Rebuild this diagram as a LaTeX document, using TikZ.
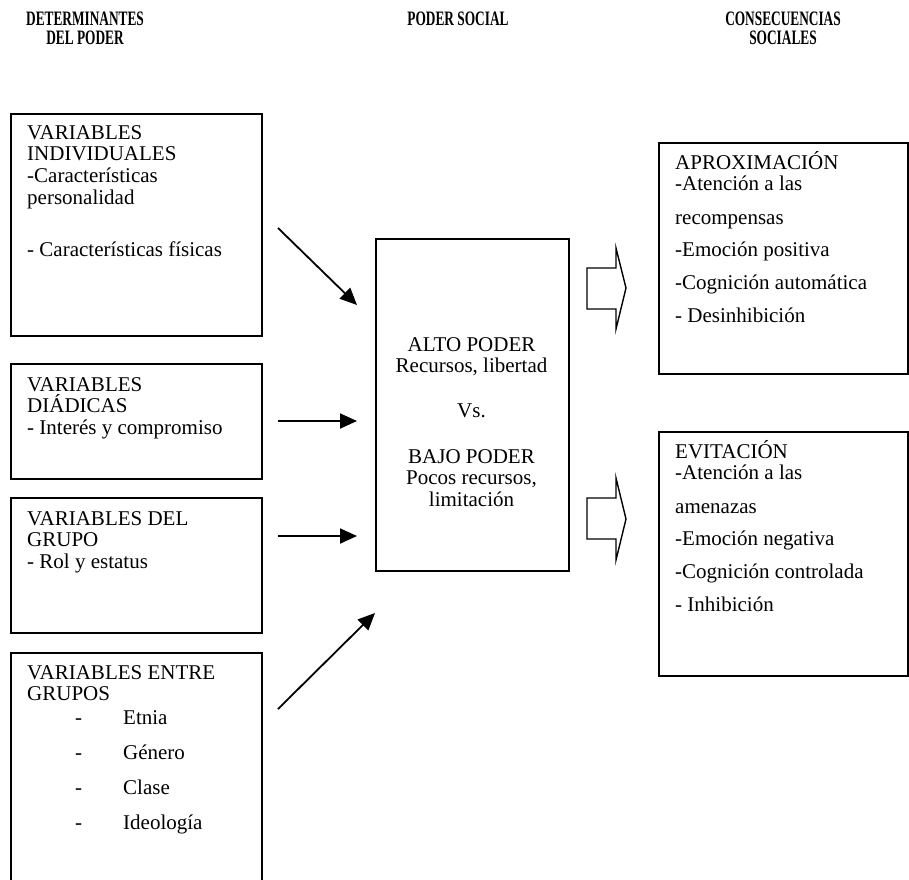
\documentclass[tikz,border=0pt]{standalone}
\usepackage{fontspec}
\setmainfont{Liberation Serif}
\usetikzlibrary{arrows.meta}
\begin{document}
\begin{tikzpicture}[x=1pt,y=-1pt,
  box/.style={draw, line width=1.8pt, anchor=north west, inner sep=0pt},
  % multi-line texts are placed by the baseline of their last line
  txt/.style={anchor=base west, align=left, inner sep=0pt, font=\fontsize{21}{21.7}\selectfont},
  ctxt/.style={anchor=base, align=center, inner sep=0pt, font=\fontsize{21}{21.7}\selectfont},
  head/.style={anchor=base, align=center, inner sep=0pt, xscale=0.65,
    font=\fontsize{20.5}{19.5}\selectfont\bfseries},
  link/.style={line width=1.8pt, -{Triangle[length=17pt,width=15pt]}},
  blockarrow/.style={draw, line width=1.4pt, line join=miter}
]
\useasboundingbox (0,0) rectangle (909,879);
\clip (0,0) rectangle (909,879);

% column headings
\node[head] (hdet) at (85,44.5) {DETERMINANTES\\DEL PODER};
\node[head] (hpod) at (458,25) {PODER SOCIAL};
\node[head] (hcon) at (783,44.5) {CONSECUENCIAS\\SOCIALES};

% determinants (left column)
\node[box, minimum width=251pt, minimum height=222pt] (ind) at (10,113) {};
\node[txt] (indt) at (27,256.8) {VARIABLES\\INDIVIDUALES\\-Características\\personalidad\\[31pt]- Características físicas};

\node[box, minimum width=251pt, minimum height=115pt] (dia) at (10,363) {};
\node[txt] (diat) at (27,434.4) {VARIABLES\\DIÁDICAS\\- Interés y compromiso};

\node[box, minimum width=251pt, minimum height=135pt] (gru) at (10,497) {};
\node[txt] (grut) at (27,568.4) {VARIABLES DEL\\GRUPO\\- Rol y estatus};

\node[box, minimum width=251pt, minimum height=300pt] (ent) at (10,652) {};
\node[txt] (entt) at (27,700.7) {VARIABLES ENTRE\\GRUPOS};
\node[txt] (entl) at (75,829) {\makebox[48pt][l]{-}Etnia\\[13.3pt]\makebox[48pt][l]{-}Género\\[13.3pt]\makebox[48pt][l]{-}Clase\\[13.3pt]\makebox[48pt][l]{-}Ideología};

% social power (centre)
\node[box, minimum width=193pt, minimum height=332pt] (pod) at (375,238) {};
\node[ctxt] (podt) at (471.5,506.5) {ALTO PODER\\Recursos, libertad\\[23pt]Vs.\\[24pt]BAJO PODER\\Pocos recursos,\\limitación};

% consequences (right column)
\node[box, minimum width=249pt, minimum height=231pt] (apr) at (658,142) {};
\node[txt] (aprt) at (675,322.1) {APROXIMACIÓN\\-Atención a las\\[11.6pt]recompensas\\[11pt]-Emoción positiva\\[11pt]-Cognición automática\\[11pt]- Desinhibición};

\node[box, minimum width=249pt, minimum height=244pt] (evi) at (658,431) {};
\node[txt] (evit) at (675,611.1) {EVITACIÓN\\-Atención a las\\[11.6pt]amenazas\\[11pt]-Emoción negativa\\[11pt]-Cognición controlada\\[11pt]- Inhibición};

% arrows into the centre box
\coordinate (a1s) at (278,228); \coordinate (a1e) at (357,305);
\coordinate (a2s) at (278,421); \coordinate (a2e) at (357,421);
\coordinate (a3s) at (278,536); \coordinate (a3e) at (357,536);
\coordinate (a4s) at (278,709); \coordinate (a4e) at (375,613);
\draw[link] (a1s) -- (a1e);
\draw[link] (a2s) -- (a2e);
\draw[link] (a3s) -- (a3e);
\draw[link] (a4s) -- (a4e);

% outline block arrows towards the consequences
\draw[blockarrow] (587,268) -- (616,268) -- (616,248) -- (626,288) -- (616,329) -- (616,309) -- (587,309) -- cycle;
\draw[blockarrow] (587,498) -- (616,498) -- (616,478) -- (626,519) -- (616,560) -- (616,539) -- (587,539) -- cycle;
\end{tikzpicture}
\end{document}
